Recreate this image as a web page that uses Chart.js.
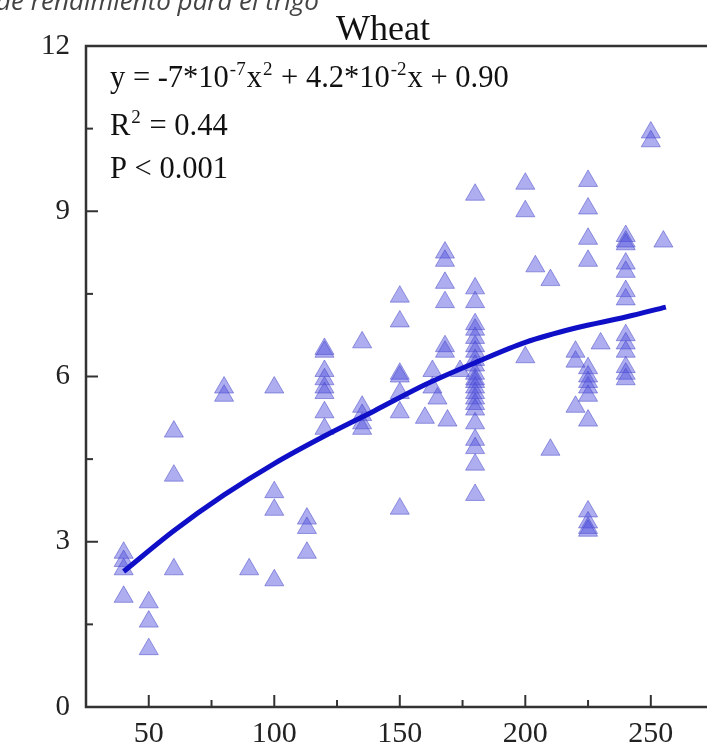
<!DOCTYPE html>
<html>
<head>
<meta charset="utf-8">
<script src="https://cdn.jsdelivr.net/npm/chart.js@4"></script>
<style>
  html, body { margin: 0; padding: 0; background: #fff; overflow: hidden; }
  #wrap { position: relative; width: 707px; height: 746px; }
  canvas { display: block; }
</style>
</head>
<body>
<div id="wrap"><canvas id="c" width="707" height="746"></canvas></div>
<script>
// ---- data ----
const chartTitle = "Wheat";
const captionText = "de rendimiento para el trigo";
const xTickValues = [50, 100, 150, 200, 250];
const xMinorTicks = [75, 125, 175, 225];
const yTickValues = [0, 3, 6, 9, 12];
const yMinorTicks = [1.5, 4.5, 7.5, 10.5];

// scatter observations (N rate, yield)
const pointX = [
  40, 40, 40, 40,
  50, 50, 50,
  60, 60, 60,
  80, 80,
  90,
  100, 100, 100, 100,
  113, 113, 113,
  120, 120, 120, 120, 120, 120, 120, 120,
  135, 135, 135, 135, 135,
  150, 150, 150, 150, 150, 150, 150,
  160, 163, 163, 165,
  168, 168, 168, 168, 168, 168,
  169, 174,
  180, 180, 180, 180, 180, 180, 180, 180, 180, 180, 180, 180,
  180, 180, 180, 180, 180, 180, 180, 180, 180, 180, 180,
  200, 200, 200,
  204,
  210, 210,
  220, 220, 220,
  225, 225, 225, 225, 225, 225, 225, 225, 225, 225, 225, 225, 225, 225,
  230,
  240, 240, 240, 240, 240, 240, 240, 240, 240, 240, 240, 240, 240,
  250, 250,
  255
];
const pointY = [
  2.8, 2.65, 2.5, 2.0,
  1.9, 1.55, 1.05,
  5.0, 4.2, 2.5,
  5.8, 5.65,
  2.5,
  5.8, 3.9, 3.58, 2.3,
  3.42, 3.25, 2.8,
  6.5, 6.45, 6.1, 5.95, 5.8, 5.7, 5.35, 5.05,
  6.62, 5.45, 5.3, 5.15, 5.05,
  7.45, 7.0, 6.05, 6.0, 5.7, 5.35, 3.6,
  5.25, 6.1, 5.8, 5.6,
  8.25, 8.1, 7.7, 7.35, 6.55, 6.45,
  5.2, 6.1,
  9.3, 7.6, 7.35, 6.95, 6.85, 6.7, 6.55, 6.45, 6.3, 6.2, 6.05, 5.95,
  5.9, 5.8, 5.7, 5.6, 5.5, 5.4, 5.15, 4.85, 4.7, 4.4, 3.85,
  9.5, 9.0, 6.35,
  8.0,
  7.75, 4.67,
  6.45, 6.27, 5.45,
  9.55, 9.05, 8.5, 8.1, 6.15, 6.0, 5.9, 5.8, 5.65, 5.2, 3.55, 3.35, 3.25, 3.2,
  6.6,
  8.55, 8.45, 8.4, 8.05, 7.9, 7.55, 7.4, 6.75, 6.6, 6.45, 6.17, 6.05, 5.95,
  10.43, 10.27,
  8.45
];

// fitted curve
const curveX = [40, 60, 80, 100, 120, 140, 160, 180, 200, 220, 240, 256];
const curveY = [2.46, 3.2, 3.85, 4.42, 4.92, 5.38, 5.85, 6.25, 6.62, 6.88, 7.08, 7.26];

// ---- build chart ----
const scatterData = pointX.map((x, i) => ({ x: x, y: pointY[i] }));
const curveData = curveX.map((x, i) => ({ x: x, y: curveY[i] }));

const SERIF = '"Liberation Serif", "Times New Roman", serif';
const AXIS = '#333333';

function drawRich(ctx, x, y, parts, size) {
  let cx = x;
  parts.forEach(p => {
    if (p.sup) {
      ctx.font = Math.round(size * 0.62) + 'px ' + SERIF;
      ctx.fillText(p.t, cx + 1, y - size * 0.38);
      cx += ctx.measureText(p.t).width + 2;
    } else {
      ctx.font = size + 'px ' + SERIF;
      ctx.fillText(p.t, cx, y);
      cx += ctx.measureText(p.t).width;
    }
  });
}

const decor = {
  id: 'decor',
  afterDraw(chart) {
    const { ctx, chartArea: a, scales } = chart;
    const xs = scales.x, ys = scales.y;
    ctx.save();
    // frame: left axis, bottom axis and top line (right side runs off the picture)
    ctx.strokeStyle = AXIS;
    ctx.lineWidth = 2.5;
    ctx.lineCap = 'square';
    ctx.beginPath();
    ctx.moveTo(chart.width + 2, a.top);
    ctx.lineTo(a.left, a.top);
    ctx.lineTo(a.left, a.bottom);
    ctx.lineTo(chart.width + 2, a.bottom);
    ctx.stroke();
    // inward ticks
    ctx.lineWidth = 2;
    ctx.lineCap = 'butt';
    const seg = (x1, y1, x2, y2) => { ctx.beginPath(); ctx.moveTo(x1, y1); ctx.lineTo(x2, y2); ctx.stroke(); };
    xTickValues.forEach(v => { const p = xs.getPixelForValue(v); seg(p, a.bottom, p, a.bottom - 12); });
    xMinorTicks.forEach(v => { const p = xs.getPixelForValue(v); seg(p, a.bottom, p, a.bottom - 7); });
    yTickValues.forEach(v => { const p = ys.getPixelForValue(v); seg(a.left, p, a.left + 12, p); });
    yMinorTicks.forEach(v => { const p = ys.getPixelForValue(v); seg(a.left, p, a.left + 7, p); });

    // title
    ctx.fillStyle = '#111';
    ctx.textBaseline = 'alphabetic';
    ctx.textAlign = 'center';
    ctx.font = '36px ' + SERIF;
    ctx.fillText(chartTitle, 383, 40);

    // caption cut at the top of the picture
    ctx.textAlign = 'left';
    ctx.fillStyle = '#444';
    ctx.font = 'italic 26px "Open Sans", sans-serif';
    ctx.fillText(captionText, -4, 10);

    // equation block
    ctx.fillStyle = '#111';
    drawRich(ctx, 110, 87, [
      { t: 'y = -7*10' }, { t: '-7', sup: true }, { t: 'x' }, { t: '2', sup: true },
      { t: ' + 4.2*10' }, { t: '-2', sup: true }, { t: 'x + 0.90' }
    ], 30.5);
    drawRich(ctx, 110, 135, [{ t: 'R' }, { t: '2', sup: true }, { t: ' = 0.44' }], 30.5);
    drawRich(ctx, 110, 178, [{ t: 'P < 0.001' }], 30.5);
    ctx.restore();
  }
};

new Chart(document.getElementById('c'), {
  type: 'scatter',
  data: {
    datasets: [
      {
        type: 'line',
        data: curveData,
        borderColor: '#0f0fc8',
        borderWidth: 5,
        pointRadius: 0,
        fill: false,
        cubicInterpolationMode: 'monotone',
        order: 0
      },
      {
        type: 'scatter',
        data: scatterData,
        pointStyle: 'triangle',
        pointRadius: 11,
        backgroundColor: 'rgba(80,80,222,0.47)',
        borderColor: 'rgba(70,70,200,0.5)',
        borderWidth: 1,
        order: 1
      }
    ]
  },
  options: {
    responsive: false,
    animation: false,
    layout: { padding: { top: 46, left: 0, right: 0, bottom: 0 } },
    plugins: { legend: { display: false }, tooltip: { enabled: false }, title: { display: false } },
    scales: {
      x: {
        type: 'linear',
        position: 'bottom',
        min: 25,
        max: 267.6,
        afterBuildTicks: s => { s.ticks = xTickValues.map(v => ({ value: v })); },
        afterFit: s => { s.height = 39; },
        grid: { display: true, drawOnChartArea: false, drawTicks: false },
        border: { display: false },
        ticks: { font: { family: SERIF, size: 30 }, color: '#222', padding: 9, maxRotation: 0 }
      },
      y: {
        type: 'linear',
        min: 0,
        max: 12,
        afterBuildTicks: s => { s.ticks = yTickValues.map(v => ({ value: v })); },
        afterFit: s => { s.width = 86; },
        grid: { display: true, drawOnChartArea: false, drawTicks: false },
        border: { display: false },
        ticks: { font: { family: SERIF, size: 29 }, color: '#222', padding: 16 }
      }
    }
  },
  plugins: [decor]
});
</script>
</body>
</html>
